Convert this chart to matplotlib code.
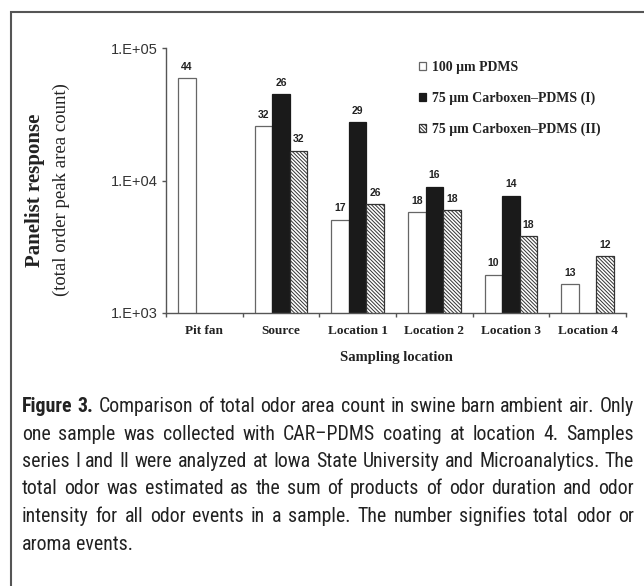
import numpy as np
import matplotlib.pyplot as plt
from matplotlib import font_manager
from matplotlib.patches import Rectangle

W, H = 644, 586

locations = ['Pit fan', 'Source', 'Location 1', 'Location 2', 'Location 3', 'Location 4']
series = ['100 \u03bcm PDMS', '75 \u03bcm Carboxen\u2013PDMS (I)', '75 \u03bcm Carboxen\u2013PDMS (II)']

pdms = [59000, 25700, 5060, 5780, 1950, 1660]
car1 = [np.nan, 45000, 27600, 9000, 7700, np.nan]
car2 = [np.nan, 16800, 6650, 5950, 3820, 2680]

# number of odor events printed above each bar
pdms_n = ['44', '32', '17', '18', '10', '13']
car1_n = ['', '26', '29', '16', '14', '']
car2_n = ['', '32', '26', '18', '18', '12']

yticks = [1e3, 1e4, 1e5]
ytick_labels = ['1.E+03', '1.E+04', '1.E+05']

caption = [
    'Figure 3. Comparison of total odor area count in swine barn ambient air. Only',
    'one sample was collected with CAR\u2013PDMS coating at location 4. Samples',
    'series I and II were analyzed at Iowa State University and Microanalytics. The',
    'total odor was estimated as the sum of products of odor duration and odor',
    'intensity for all odor events in a sample. The number signifies total odor or',
    'aroma events.',
]


def pick_font(names):
    for n in names:
        try:
            font_manager.findfont(n, fallback_to_default=False)
            return n
        except Exception:
            pass
    return 'DejaVu Sans'


cap_font = pick_font(['Liberation Sans Narrow', 'Roboto Condensed', 'Open Sans Condensed',
                      'DejaVu Sans Condensed', 'Lato'])

plt.rcParams['hatch.linewidth'] = 0.7
plt.rcParams['hatch.color'] = '#333333'

fig = plt.figure(figsize=(W / 100, H / 100), dpi=100)
fig.patch.set_facecolor('white')

# outer frame (open to the right and bottom, as cropped)
fig.add_artist(Rectangle((11 / W, -0.1), 1.2, 1 - 12 / H + 0.1, transform=fig.transFigure,
                         fill=False, ec='#555555', lw=1.5))

ax_top, ax_bot = 48, 313
ax = fig.add_axes([166 / W, 1 - ax_bot / H, (626 - 166) / W, (ax_bot - ax_top) / H])

x = np.arange(len(locations))
bw = 0.23
b1 = ax.bar(x - bw, pdms, bw, color='white', edgecolor='#666666', lw=0.9, label=series[0])
b2 = ax.bar(x, car1, bw, color='#1a1a1a', edgecolor='#1a1a1a', lw=0.9, label=series[1])
b3 = ax.bar(x + bw, car2, bw, color='white', edgecolor='#333333', hatch='\\' * 9, lw=0.9,
            label=series[2])

for bars, vals, nums in [(b1, pdms, pdms_n), (b2, car1, car1_n), (b3, car2, car2_n)]:
    for rect, v, n in zip(bars, vals, nums):
        if n and not np.isnan(v):
            ax.annotate(n, (rect.get_x() + rect.get_width() / 2, v), xytext=(0, 4.5),
                        textcoords='offset points', ha='center', va='bottom',
                        fontsize=7.5, fontweight='bold', family='Liberation Sans',
                        color='#222222')

ax.set_yscale('log')
ax.set_ylim(1e3, 1e5)
ax.set_xlim(-0.5, len(locations) - 0.5)
ax.set_yticks(yticks)
ax.set_yticklabels(ytick_labels, family='Liberation Sans', fontsize=10.5, color='#333333')
ax.yaxis.set_minor_locator(plt.NullLocator())
ax.set_xticks(x)
ax.set_xticklabels(locations, family='Liberation Serif', fontweight='bold', fontsize=9.5,
                   color='#222222')
ax.set_xticks(np.arange(-0.5, len(locations)), minor=True)
ax.tick_params(axis='x', which='major', length=0, pad=9)
ax.tick_params(axis='x', which='minor', length=3, width=1, color='#555555')
ax.tick_params(axis='y', length=3, width=1, color='#555555', pad=3)
for s in ['top', 'right']:
    ax.spines[s].set_visible(False)
for s in ['left', 'bottom']:
    ax.spines[s].set_color('#555555')
    ax.spines[s].set_linewidth(1)

fig.text(396 / W, 1 - 357 / H, 'Sampling location', ha='center', va='center',
         family='Liberation Serif', fontweight='bold', fontsize=10.5, color='#222222')

fig.text(35 / W, 1 - 190 / H, 'Panelist response', rotation=90, ha='center', va='center',
         family='Liberation Serif', fontweight='bold', fontsize=15, color='#222222')
fig.text(61 / W, 1 - 190 / H, '(total order peak area count)', rotation=90, ha='center',
         va='center', family='Liberation Serif', fontsize=13.5, color='#222222')

leg = ax.legend(loc='upper left', bbox_to_anchor=(419 / W, 1 - 61 / H),
                bbox_transform=fig.transFigure, frameon=False, handlelength=0.5,
                handleheight=0.5, handletextpad=0.45, labelspacing=1.25, borderpad=0,
                borderaxespad=0,
                prop={'family': 'Liberation Serif', 'weight': 'bold', 'size': 10})
for t in leg.get_texts():
    t.set_color('#222222')

# justified caption, font size chosen so the widest full line fits the column
renderer = fig.canvas.get_renderer()
x0, x1 = 22, 634
natural = 0
for line in caption[:-1]:
    probe = fig.text(0, 0, line, family=cap_font, fontsize=20)
    natural = max(natural, probe.get_window_extent(renderer).width)
    probe.remove()
cap_size = min(14.5, 20 * (x1 - x0) / natural * 0.985)

for i, line in enumerate(caption):
    y = 1 - (412 + i * 27.5) / H
    words = line.split()
    texts = []
    for j, w in enumerate(words):
        bold = i == 0 and j < 2
        texts.append(fig.text(0, y, w, va='baseline', ha='left', family=cap_font,
                              fontsize=cap_size, fontweight='bold' if bold else 'normal',
                              color='#222222'))
    widths = [t.get_window_extent(renderer).width for t in texts]
    if i == len(caption) - 1:
        gap = cap_size * 0.3
    else:
        gap = (x1 - x0 - sum(widths)) / (len(words) - 1)
    xp = x0
    for t, wd in zip(texts, widths):
        t.set_x(xp / W)
        xp += wd + gap

fig.savefig('out.png', dpi=100)
